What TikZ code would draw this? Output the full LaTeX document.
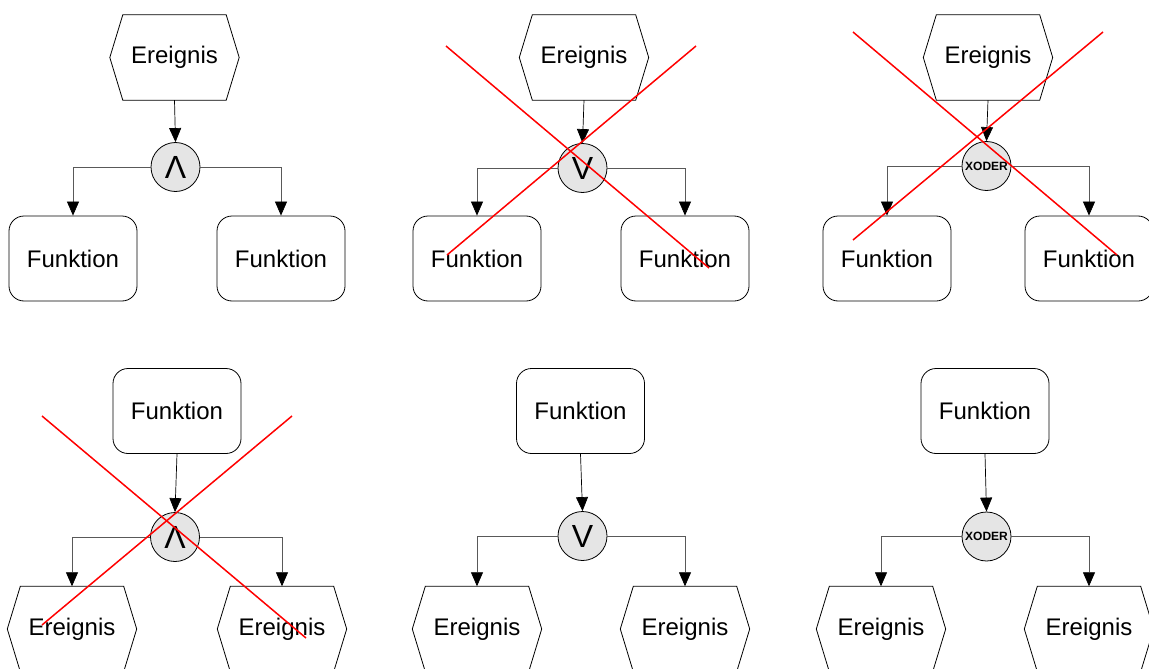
\documentclass[tikz,border=0pt]{standalone}
\usepackage{fontspec}
\setmainfont{Liberation Sans}
\usetikzlibrary{arrows.meta}

% Event (hexagon) node: an invisible box plus the six-sided outline
\newcommand{\eventnode}[2]{%
  \node[evtbox] (#1) at (#2) {Ereignis};
  \draw[outline] ([xshift=13pt]#1.north west) -- ([xshift=-13pt]#1.north east)
    -- (#1.east) -- ([xshift=-13pt]#1.south east) -- ([xshift=13pt]#1.south west)
    -- (#1.west) -- cycle;
}

\tikzset{
  outline/.style={draw=black, line width=0.8pt},
  evtbox/.style={rectangle, minimum width=129pt, minimum height=85pt, inner sep=0pt,
    font=\fontsize{24}{28}\selectfont},
  funcbox/.style={outline, rectangle, rounded corners=15pt, minimum width=128pt,
    minimum height=85pt, inner sep=0pt, fill=white, font=\fontsize{24}{28}\selectfont},
  gate/.style={outline, circle, fill=black!10, minimum size=49pt, inner sep=0pt,
    font=\fontsize{32}{34}\selectfont},
  xgate/.style={gate, font=\fontsize{12}{13}\selectfont\bfseries},
  flow/.style={draw=black, line width=0.7pt, -{Triangle[width=12pt,length=14pt]}},
  branch/.style={draw=black!65, line width=0.7pt,
    -{Triangle[width=12pt,length=14pt,color=black]}},
  cross/.style={draw=red, line width=1.5pt},
}

\begin{document}
\begin{tikzpicture}[x=1pt,y=-1pt]
\useasboundingbox (0,0) rectangle (1149,669);
\clip (0,0) rectangle (1149,669);

% ---------- top row: event -> gate -> functions ----------
% AND
\eventnode{eA}{174.5,57.5}
\node[gate] (gA) at (175.5,167) {Λ};
\node[funcbox] (fA1) at (73,258.5) {Funktion};
\node[funcbox] (fA2) at (281,258.5) {Funktion};
\draw[flow] (eA.south) -- (gA.north);
\draw[branch] (gA.west) -| (fA1.north);
\draw[branch] (gA.east) -| (fA2.north);

% OR
\eventnode{eB}{584,57.5}
\node[gate] (gB) at (582.5,168) {V};
\node[funcbox] (fB1) at (477,258.5) {Funktion};
\node[funcbox] (fB2) at (685,258.5) {Funktion};
\draw[flow] (eB.south) -- (gB.north);
\draw[branch] (gB.west) -| (fB1.north);
\draw[branch] (gB.east) -| (fB2.north);

% XOR
\eventnode{eC}{988,57.5}
\node[xgate] (gC) at (986.5,166) {XODER};
\node[funcbox] (fC1) at (887,258.5) {Funktion};
\node[funcbox] (fC2) at (1089,258.5) {Funktion};
\draw[flow] (eC.south) -- (gC.north);
\draw[branch] (gC.west) -| (fC1.north);
\draw[branch] (gC.east) -| (fC2.north);

% ---------- bottom row: function -> gate -> events ----------
% AND
\node[funcbox] (fD) at (177,411) {Funktion};
\node[gate] (gD) at (175,537) {Λ};
\eventnode{eD1}{72,629}
\eventnode{eD2}{282,629}
\draw[flow] (fD.south) -- (gD.north);
\draw[branch] (gD.west) -| (eD1.north);
\draw[branch] (gD.east) -| (eD2.north);

% OR
\node[funcbox] (fE) at (580.5,411) {Funktion};
\node[gate] (gE) at (582.5,536) {V};
\eventnode{eE1}{477,629}
\eventnode{eE2}{685,629}
\draw[flow] (fE.south) -- (gE.north);
\draw[branch] (gE.west) -| (eE1.north);
\draw[branch] (gE.east) -| (eE2.north);

% XOR
\node[funcbox] (fF) at (985,411) {Funktion};
\node[xgate] (gF) at (986.5,536.5) {XODER};
\eventnode{eF1}{881,629}
\eventnode{eF2}{1089,629}
\draw[flow] (fF.south) -- (gF.north);
\draw[branch] (gF.west) -| (eF1.north);
\draw[branch] (gF.east) -| (eF2.north);

% ---------- invalid combinations crossed out ----------
\draw[cross] (446,46) -- (709,268);
\draw[cross] (696,46) -- (447,255);
\draw[cross] (853,32) -- (1117,255);
\draw[cross] (1103,32) -- (853,240);
\draw[cross] (42,416) -- (306,638);
\draw[cross] (292,416) -- (42,625);
\end{tikzpicture}
\end{document}
